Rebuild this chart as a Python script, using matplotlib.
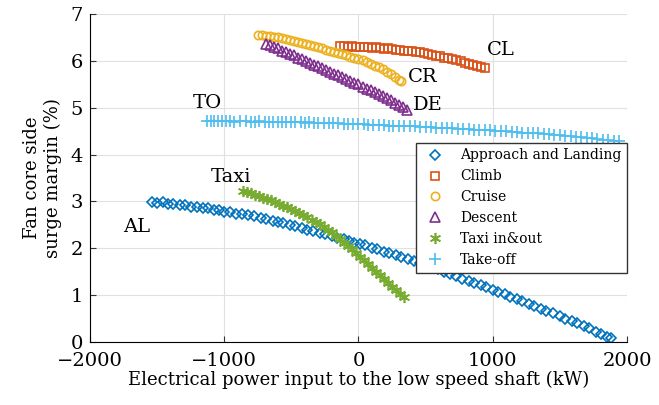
import matplotlib
matplotlib.use('Agg')
import matplotlib.pyplot as plt

plt.rcParams['font.family'] = 'DejaVu Serif'

# Approach and Landing
al_x = [-1540, -1500, -1460, -1420, -1380, -1330, -1290, -1250, -1200, -1160,
        -1120, -1080, -1040, -1000, -960, -910, -870, -820, -780, -730,
        -690, -640, -600, -560, -510, -470, -420, -380, -340, -290,
        -250, -200, -160, -110, -70, -30, 10, 50, 100, 140,
        190, 230, 280, 320, 370, 410, 460, 500, 550, 590,
        640, 680, 730, 770, 820, 860, 910, 950, 1000, 1040,
        1090, 1130, 1180, 1220, 1270, 1310, 1360, 1400, 1450, 1500,
        1540, 1590, 1630, 1680, 1720, 1770, 1810, 1850, 1880]
al_y = [2.99, 2.97, 2.98, 2.95, 2.94, 2.92, 2.92, 2.89, 2.88, 2.86,
        2.85, 2.82, 2.81, 2.78, 2.77, 2.74, 2.73, 2.70, 2.68, 2.64,
        2.63, 2.59, 2.56, 2.54, 2.49, 2.47, 2.43, 2.40, 2.37, 2.33,
        2.30, 2.26, 2.22, 2.19, 2.15, 2.12, 2.09, 2.06, 2.01, 1.98,
        1.93, 1.90, 1.85, 1.81, 1.77, 1.73, 1.69, 1.65, 1.59, 1.55,
        1.50, 1.45, 1.40, 1.35, 1.30, 1.26, 1.21, 1.17, 1.12, 1.07,
        1.02, 0.97, 0.92, 0.87, 0.81, 0.76, 0.71, 0.66, 0.61, 0.55,
        0.50, 0.44, 0.40, 0.34, 0.29, 0.22, 0.17, 0.11, 0.08]

# Climb
cl_x = [-140, -110, -80, -50, -20, 10, 40, 70, 100, 130, 160, 190, 220, 250,
        280, 310, 340, 370, 400, 430, 460, 490, 520, 550, 580, 610, 640, 670,
        700, 730, 760, 790, 820, 850, 880, 910, 940]
cl_y = [6.31, 6.32, 6.30, 6.31, 6.30, 6.30, 6.29, 6.29, 6.28, 6.29, 6.27, 6.26,
        6.27, 6.25, 6.24, 6.24, 6.22, 6.22, 6.20, 6.19, 6.18, 6.16, 6.15, 6.13,
        6.11, 6.10, 6.07, 6.06, 6.03, 6.01, 5.99, 5.96, 5.94, 5.92, 5.89, 5.87,
        5.85]

# Cruise
cr_x = [-750, -720, -690, -660, -630, -600, -570, -540, -510, -480, -450, -420,
        -390, -360, -330, -300, -270, -240, -210, -180, -150, -120, -90, -60,
        -30, 0, 30, 60, 90, 120, 150, 180, 210, 240, 270, 300, 320]
cr_y = [6.55, 6.56, 6.54, 6.53, 6.52, 6.50, 6.49, 6.47, 6.45, 6.43, 6.41, 6.38,
        6.36, 6.34, 6.31, 6.29, 6.27, 6.24, 6.22, 6.19, 6.16, 6.14, 6.12, 6.09,
        6.07, 6.04, 6.01, 5.98, 5.94, 5.90, 5.86, 5.82, 5.77, 5.72, 5.66, 5.60,
        5.56]

# Descent
de_x = [-690, -660, -630, -600, -570, -540, -510, -480, -450, -420, -390, -360,
        -330, -300, -270, -240, -210, -180, -150, -120, -90, -60, -30, 0,
        30, 60, 90, 120, 150, 180, 210, 240, 270, 300, 330, 360]
de_y = [6.37, 6.33, 6.30, 6.27, 6.22, 6.19, 6.15, 6.12, 6.07, 6.04, 6.00, 5.96,
        5.92, 5.89, 5.85, 5.81, 5.77, 5.73, 5.69, 5.66, 5.61, 5.58, 5.53, 5.50,
        5.45, 5.41, 5.37, 5.33, 5.29, 5.24, 5.20, 5.16, 5.11, 5.06, 5.01, 4.96]

# Taxi in&out
tx_x = [-860, -830, -800, -770, -740, -710, -680, -650, -620, -590, -560, -530,
        -500, -470, -440, -410, -380, -350, -320, -290, -260, -230, -200, -170,
        -140, -110, -80, -50, -20, 10, 40, 70, 100, 130, 160, 190, 220, 250,
        280, 310, 340]
tx_y = [3.22, 3.20, 3.17, 3.14, 3.11, 3.08, 3.05, 3.02, 2.99, 2.95, 2.91, 2.88,
        2.84, 2.80, 2.76, 2.71, 2.66, 2.61, 2.56, 2.51, 2.46, 2.40, 2.34, 2.26,
        2.19, 2.12, 2.05, 1.98, 1.90, 1.82, 1.74, 1.66, 1.58, 1.50, 1.42, 1.34,
        1.26, 1.18, 1.10, 1.02, 0.95]

# Take-off
to_x = [-1130, -1100, -1075, -1050, -1020, -990, -960, -930, -880, -840, -800,
        -770, -740, -700, -670, -640, -600, -570, -540, -500, -470, -430, -400,
        -370, -330, -300, -260, -220, -190, -150, -110, -80, -40, 0, 40, 70,
        110, 150, 190, 230, 260, 300, 340, 380, 420, 460, 500, 540, 580, 620,
        660, 700, 740, 780, 820, 860, 900, 940, 980, 1020, 1060, 1100, 1140,
        1180, 1220, 1260, 1300, 1340, 1380, 1420, 1460, 1500, 1540, 1580, 1620,
        1660, 1700, 1740, 1780, 1820, 1860, 1900, 1940]
to_y = [4.71, 4.71, 4.72, 4.71, 4.71, 4.71, 4.71, 4.70, 4.71, 4.71, 4.70,
        4.70, 4.71, 4.70, 4.70, 4.70, 4.70, 4.69, 4.70, 4.69, 4.69, 4.69, 4.68,
        4.69, 4.68, 4.68, 4.68, 4.67, 4.67, 4.67, 4.66, 4.66, 4.66, 4.65, 4.65,
        4.64, 4.64, 4.63, 4.63, 4.62, 4.62, 4.61, 4.61, 4.60, 4.60, 4.59, 4.58,
        4.58, 4.57, 4.57, 4.56, 4.56, 4.55, 4.55, 4.54, 4.53, 4.53, 4.52, 4.52,
        4.51, 4.50, 4.50, 4.49, 4.48, 4.47, 4.47, 4.46, 4.45, 4.44, 4.43, 4.42,
        4.41, 4.40, 4.39, 4.38, 4.37, 4.36, 4.35, 4.34, 4.32, 4.31, 4.30, 4.28]

# phase tags written next to each curve
tags = ['CL', 'CR', 'DE', 'TO', 'Taxi', 'AL']
tag_x = [1060, 478, 515, -1127, -948, -1649]
tag_y = [6.23, 5.65, 5.06, 5.10, 3.52, 2.45]

fig = plt.figure(figsize=(6.59, 4.05), dpi=100)
ax = fig.add_axes([0.1366, 0.1556, 0.8148, 0.8098])

ax.plot(al_x, al_y, 'D', ms=5.5, mfc='none', mec='#0072BD', mew=1.2,
        label='Approach and Landing')
ax.plot(cl_x, cl_y, 's', ms=6, mfc='none', mec='#D95319', mew=1.2,
        label='Climb')
ax.plot(cr_x, cr_y, 'o', ms=6, mfc='none', mec='#EDB120', mew=1.2,
        label='Cruise')
ax.plot(de_x, de_y, '^', ms=7, mfc='none', mec='#7E2F8E', mew=1.2,
        label='Descent')
ax.plot(tx_x, tx_y, marker=(6, 2, 0), ls='none', ms=8, mec='#77AC30',
        mew=1.2, label='Taxi in&out')
ax.plot(to_x, to_y, '+', ms=9, mec='#4DBEEE', mew=1.2, label='Take-off')

for t, x, y in zip(tags, tag_x, tag_y):
    ax.text(x, y, t, fontsize=14, ha='center', va='center')

ax.set_xlim(-2000, 2000)
ax.set_ylim(0, 7)
ax.set_xticks([-2000, -1000, 0, 1000, 2000])
ax.set_yticks(range(0, 8))
ax.set_xticklabels(['\u22122000', '\u22121000', '0', '1000', '2000'])
ax.tick_params(direction='in', labelsize=14, length=4, color='#333333')
ax.tick_params(axis='x', pad=7)
ax.tick_params(axis='y', pad=5)
ax.grid(True, color='#e0e0e0', lw=0.8)
ax.set_axisbelow(True)
ax.spines['top'].set_visible(False)
ax.spines['right'].set_visible(False)

ax.set_xlabel('Electrical power input to the low speed shaft (kW)',
              fontsize=13, labelpad=1)
ax.set_ylabel('Fan core side\nsurge margin (%)', fontsize=13, labelpad=6)

leg = ax.legend(loc='upper right', bbox_to_anchor=(1.0, 0.607), fontsize=10,
                fancybox=False, framealpha=1, edgecolor='#333333',
                borderaxespad=0, handletextpad=0.8, labelspacing=0.5)
leg.get_frame().set_linewidth(1.0)

fig.savefig('out.png', dpi=100)
